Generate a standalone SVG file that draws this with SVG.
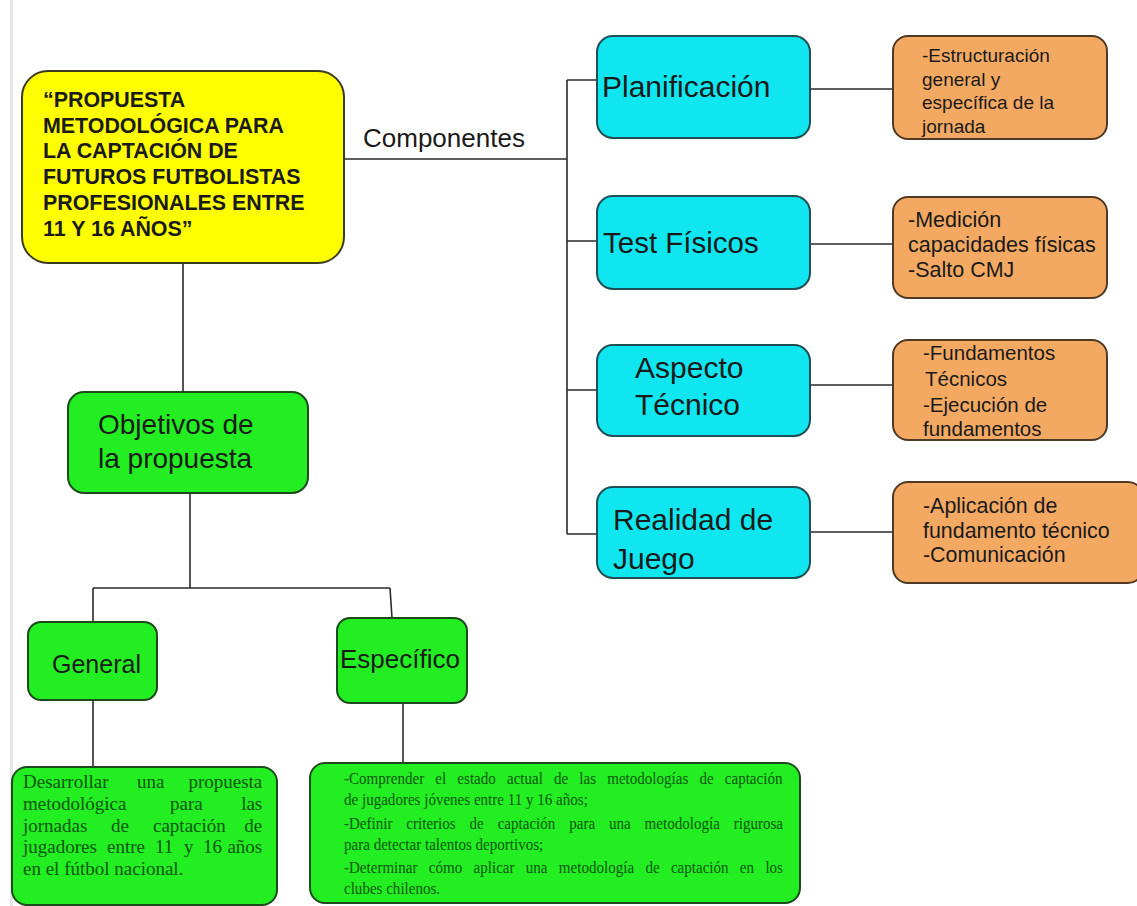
<svg xmlns="http://www.w3.org/2000/svg" width="1137" height="906" viewBox="0 0 1137 906">
<style>
.sans{font-family:"Liberation Sans",Arial,sans-serif;fill:#1a1a1a}
.serif{font-family:"Liberation Serif","Times New Roman",serif;fill:#0d560d}
.yel{fill:#ffff00;stroke:#3a3a20;stroke-width:2}
.cy{fill:#10e6ef;stroke:#1d4f55;stroke-width:2}
.or{fill:#f4a963;stroke:#4e3a25;stroke-width:2}
.gr{fill:#22ee22;stroke:#1c4a1c;stroke-width:2}
.ln{stroke:#2b2b2b;stroke-width:1.6;fill:none}
</style>
<rect width="1137" height="906" fill="#ffffff"/>
<rect x="10" y="0" width="3" height="906" fill="#e6e6e6"/>

<g id="connectors">
<path class="ln" d="M344 159 H567 M567 80 V534 M567 80 H597 M567 241 H597 M567 390 H597 M567 534 H597"/>
<path class="ln" d="M810 89 H893 M810 244 H893 M810 385 H893 M810 532 H893"/>
<path class="ln" d="M183 263 V392 M190 493 V588 M93 588 H390 M93 588 V622 M390 588 L392 618"/>
<path class="ln" d="M93 700 V767 M403 703 V763"/>
<text class="sans" x="363" y="147" font-size="26">Componentes</text>
</g>

<g id="title">
<rect class="yel" x="22" y="71" width="322" height="192" rx="26"/>
<text class="sans" font-size="21.4" font-weight="bold">
<tspan x="43" y="107">“PROPUESTA</tspan>
<tspan x="43" y="133">METODOLÓGICA PARA</tspan>
<tspan x="43" y="158">LA CAPTACIÓN DE</tspan>
<tspan x="43" y="184">FUTUROS FUTBOLISTAS</tspan>
<tspan x="43" y="210">PROFESIONALES ENTRE</tspan>
<tspan x="43" y="236">11 Y 16 AÑOS”</tspan>
</text>
</g>

<g id="planificacion">
<rect class="cy" x="597" y="36" width="213" height="102" rx="16"/>
<text class="sans" x="602" y="97" font-size="30">Planificación</text>
</g>
<g id="test-fisicos">
<rect class="cy" x="597" y="196" width="213" height="93" rx="16"/>
<text class="sans" x="603" y="253" font-size="29.5">Test Físicos</text>
</g>
<g id="aspecto-tecnico">
<rect class="cy" x="597" y="345" width="213" height="91" rx="16"/>
<text class="sans" font-size="30"><tspan x="635" y="378">Aspecto</tspan><tspan x="635" y="415">Técnico</tspan></text>
</g>
<g id="realidad-juego">
<rect class="cy" x="597" y="487" width="213" height="91" rx="16"/>
<text class="sans" font-size="30"><tspan x="613" y="530">Realidad de</tspan><tspan x="613" y="569">Juego</tspan></text>
</g>

<g id="det-planificacion">
<rect class="or" x="893" y="36" width="214" height="103" rx="15"/>
<text class="sans" font-size="19"><tspan x="922" y="62">-Estructuración</tspan><tspan x="922" y="86">general y</tspan><tspan x="922" y="109">específica de la</tspan><tspan x="922" y="133">jornada</tspan></text>
</g>
<g id="det-test">
<rect class="or" x="893" y="197" width="214" height="101" rx="15"/>
<text class="sans" font-size="21.5"><tspan x="908" y="227">-Medición</tspan><tspan x="908" y="252">capacidades físicas</tspan><tspan x="908" y="277">-Salto CMJ</tspan></text>
</g>
<g id="det-aspecto">
<rect class="or" x="893" y="340" width="214" height="100" rx="15"/>
<text class="sans" font-size="20.5"><tspan x="923" y="360">-Fundamentos</tspan><tspan x="925" y="386">Técnicos</tspan><tspan x="923" y="412">-Ejecución de</tspan><tspan x="923" y="436">fundamentos</tspan></text>
</g>
<g id="det-realidad">
<rect class="or" x="893" y="482" width="250" height="101" rx="15"/>
<text class="sans" font-size="21.4"><tspan x="923" y="513">-Aplicación de</tspan><tspan x="923" y="538">fundamento técnico</tspan><tspan x="923" y="562">-Comunicación</tspan></text>
</g>

<g id="objetivos">
<rect class="gr" x="68" y="392" width="240" height="101" rx="16"/>
<text class="sans" font-size="28"><tspan x="98" y="434">Objetivos de</tspan><tspan x="98" y="468">la propuesta</tspan></text>
</g>
<g id="general">
<rect class="gr" x="28" y="622" width="129" height="78" rx="13"/>
<text class="sans" x="52" y="673" font-size="25">General</text>
</g>
<g id="especifico">
<rect class="gr" x="337" y="618" width="130" height="85" rx="13"/>
<text class="sans" x="340" y="668" font-size="26">Específico</text>
</g>

<g id="texto-general">
<rect class="gr" x="12" y="767" width="265" height="138" rx="15"/>
<text class="serif" font-size="19">
<tspan x="23" y="788">Desarrollar</tspan><tspan x="137" y="788">una</tspan><tspan x="267" y="788" text-anchor="end">propuesta</tspan>
<tspan x="23" y="810">metodológica</tspan><tspan x="170" y="810">para</tspan><tspan x="267" y="810" text-anchor="end">las</tspan>
<tspan x="23" y="832">jornadas</tspan><tspan x="111" y="832">de</tspan><tspan x="153" y="832">captación</tspan><tspan x="267" y="832" text-anchor="end">de</tspan>
<tspan x="23" y="853">jugadores</tspan><tspan x="107" y="853">entre</tspan><tspan x="155" y="853">11</tspan><tspan x="184" y="853">y</tspan><tspan x="203" y="853">16</tspan><tspan x="267" y="853" text-anchor="end">años</tspan>
<tspan x="23" y="875">en el fútbol nacional.</tspan>
</text>
</g>

<g id="texto-especifico">
<rect class="gr" x="310" y="763" width="490" height="140" rx="15"/>
<g transform="translate(344,0) scale(0.86,1)">
<text class="serif" font-size="17.5">
<tspan x="0" y="784" word-spacing="8.6">-Comprender el estado actual de las metodologías de captación</tspan>
<tspan x="0" y="805">de jugadores jóvenes entre 11 y 16 años;</tspan>
<tspan x="0" y="829" word-spacing="11.8">-Definir criterios de captación para una metodología rigurosa</tspan>
<tspan x="0" y="850">para detectar talentos deportivos;</tspan>
<tspan x="0" y="873" word-spacing="8.8">-Determinar cómo aplicar una metodología de captación en los</tspan>
<tspan x="0" y="894">clubes chilenos.</tspan>
</text>
</g>
</g>
</svg>
